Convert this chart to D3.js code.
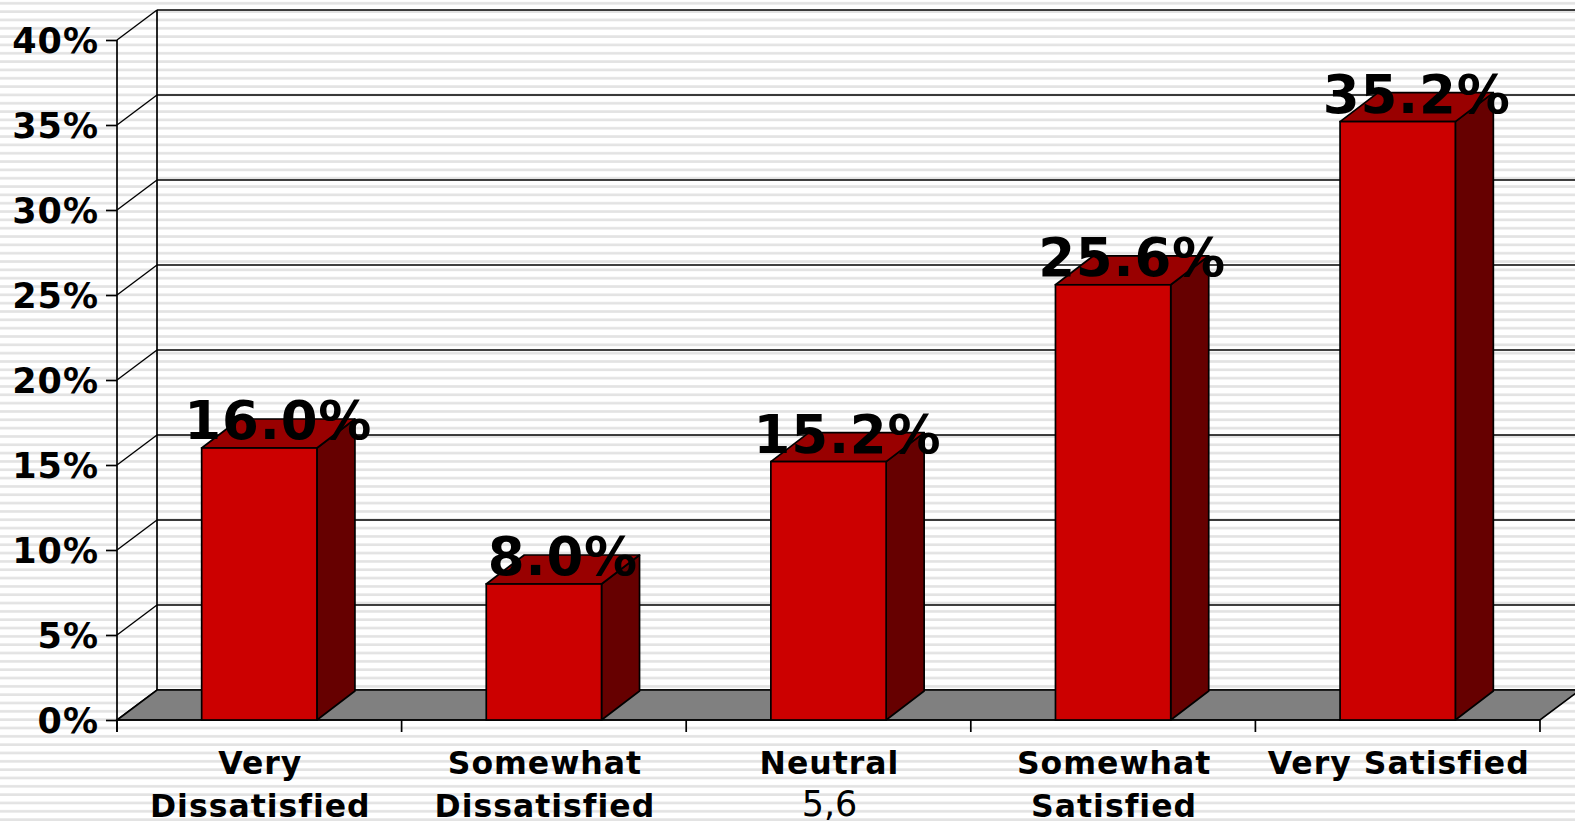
<!DOCTYPE html>
<html>
<head>
<meta charset="utf-8">
<script src="https://cdn.jsdelivr.net/npm/d3@7/dist/d3.min.js"></script>
<style>
  html, body { margin: 0; padding: 0; background: #fff; }
  svg { display: block; }
  text { font-family: "DejaVu Sans", Verdana, sans-serif; }
</style>
</head>
<body>
<svg id="chart" width="1575" height="823"></svg>
<script>
// ---- data ----
const categories = ["Very Dissatisfied", "Somewhat Dissatisfied", "Neutral", "Somewhat Satisfied", "Very Satisfied"];
const categoryLines = [["Very", "Dissatisfied"], ["Somewhat", "Dissatisfied"], ["Neutral"], ["Somewhat", "Satisfied"], ["Very Satisfied"]];
const categoryNotes = ["", "", "5,6", "", ""];
const values = [16.0, 8.0, 15.2, 25.6, 35.2];
const yTicks = [0, 5, 10, 15, 20, 25, 30, 35, 40];

// ---- layout ----
const W = 1575, H = 823;
const svg = d3.select("#chart");
const x0 = 117, x1 = 1540, yBase = 720, yTop = 40;
const wallDx = 40, wallDy = -30;
const barDx = 38, barDy = -29;

const x = d3.scaleBand().domain(categories).range([x0, x1]).padding(0);
const y = d3.scaleLinear().domain([0, 40]).range([yBase, yTop]);
const barW = x.bandwidth() * 0.405;

// background stripes
const defs = svg.append("defs");
const pat = defs.append("pattern").attr("id", "stripes").attr("patternUnits", "userSpaceOnUse")
  .attr("width", 10).attr("height", 8.33);
pat.append("rect").attr("width", 10).attr("height", 8.33).attr("fill", "#ffffff");
pat.append("rect").attr("y", 2).attr("width", 10).attr("height", 2.6).attr("fill", "#e3e3e3");
svg.append("rect").attr("width", W).attr("height", H).attr("fill", "url(#stripes)");

const lineW = 1.7;

// back wall gridlines
const g = svg.append("g");
g.selectAll("line.grid").data(yTicks).join("line")
  .attr("x1", x0 + wallDx).attr("x2", W + 10)
  .attr("y1", d => y(d) + wallDy).attr("y2", d => y(d) + wallDy)
  .attr("stroke", "#000").attr("stroke-width", lineW);
// back wall left edge
g.append("line").attr("x1", x0 + wallDx).attr("x2", x0 + wallDx)
  .attr("y1", y(40) + wallDy).attr("y2", y(0) + wallDy)
  .attr("stroke", "#000").attr("stroke-width", lineW);
// side wall diagonals
g.selectAll("line.diag").data(yTicks).join("line")
  .attr("x1", x0).attr("x2", x0 + wallDx)
  .attr("y1", d => y(d)).attr("y2", d => y(d) + wallDy)
  .attr("stroke", "#000").attr("stroke-width", lineW * 0.8);

// floor
g.append("path")
  .attr("d", `M${x0},${y(0)}L${x1},${y(0)}L${x1 + wallDx},${y(0) + wallDy}L${x0 + wallDx},${y(0) + wallDy}Z`)
  .attr("fill", "#808080").attr("stroke", "#000").attr("stroke-width", lineW);

// front y axis
const yAxis = d3.axisLeft(y).tickValues(yTicks).tickSize(11).tickFormat(d => d + "%");
const ya = svg.append("g").attr("transform", `translate(${x0},0)`).call(yAxis);
ya.select(".domain").attr("stroke", "#000").attr("stroke-width", lineW)
  .attr("d", `M0,${y(40)}V${y(0) + 12}`);
ya.selectAll(".tick line").attr("stroke", "#000").attr("stroke-width", lineW);
ya.selectAll(".tick text").attr("font-size", 35).attr("font-weight", "bold").attr("fill", "#000")
  .attr("letter-spacing", 1)
  .attr("font-family", "DejaVu Sans, sans-serif").attr("x", -18).attr("dy", "0.36em");

// x axis ticks (category boundaries)
const bounds = categories.map(c => x(c)).concat([x1]);
svg.selectAll("line.xt").data(bounds).join("line")
  .attr("x1", d => d).attr("x2", d => d).attr("y1", y(0)).attr("y2", y(0) + 12)
  .attr("stroke", "#000").attr("stroke-width", lineW);
svg.append("line").attr("x1", x0).attr("x2", x1).attr("y1", y(0)).attr("y2", y(0))
  .attr("stroke", "#000").attr("stroke-width", lineW);

// bars
const bars = svg.append("g").selectAll("g.bar").data(values).join("g");
bars.each(function(v, i) {
  const cx = x(categories[i]) + x.bandwidth() / 2;
  const l = cx - barW / 2, r = cx + barW / 2, t = y(v), b = y(0);
  const s = d3.select(this);
  // side
  s.append("path").attr("d", `M${r},${b}L${r + barDx},${b + barDy}L${r + barDx},${t + barDy}L${r},${t}Z`)
    .attr("fill", "#660000").attr("stroke", "#000").attr("stroke-width", lineW).attr("stroke-linejoin", "round");
  // top
  s.append("path").attr("d", `M${l},${t}L${l + barDx},${t + barDy}L${r + barDx},${t + barDy}L${r},${t}Z`)
    .attr("fill", "#990000").attr("stroke", "#000").attr("stroke-width", lineW).attr("stroke-linejoin", "round");
  // front
  s.append("rect").attr("x", l).attr("y", t).attr("width", barW).attr("height", b - t)
    .attr("fill", "#cc0000").attr("stroke", "#000").attr("stroke-width", lineW);
});

// value labels
svg.append("g").selectAll("text").data(values).join("text")
  .attr("x", (v, i) => x(categories[i]) + x.bandwidth() / 2 + barDx / 2)
  .attr("y", v => y(v) - 9)
  .attr("text-anchor", "middle").attr("font-size", 53).attr("font-weight", "bold").attr("fill", "#000")
  .attr("letter-spacing", 0.8)
  .text(v => d3.format(".1f")(v) + "%");

// category labels
const cl = svg.append("g").selectAll("text").data(categories).join("text")
  .attr("text-anchor", "middle").attr("font-size", 31.5).attr("font-weight", "bold").attr("fill", "#000")
  .attr("letter-spacing", 1);
cl.each(function(c, i) {
  const t = d3.select(this);
  const cx = x(c) + x.bandwidth() / 2 + 1;
  categoryLines[i].forEach((ln, k) => {
    t.append("tspan").attr("x", cx).attr("y", 774 + k * 43).text(ln);
  });
  if (categoryNotes[i]) {
    t.append("tspan").attr("x", cx).attr("y", 774 + categoryLines[i].length * 42)
      .attr("font-weight", "normal").attr("font-size", 35).attr("letter-spacing", 0).text(categoryNotes[i]);
  }
});
</script>
</body>
</html>
